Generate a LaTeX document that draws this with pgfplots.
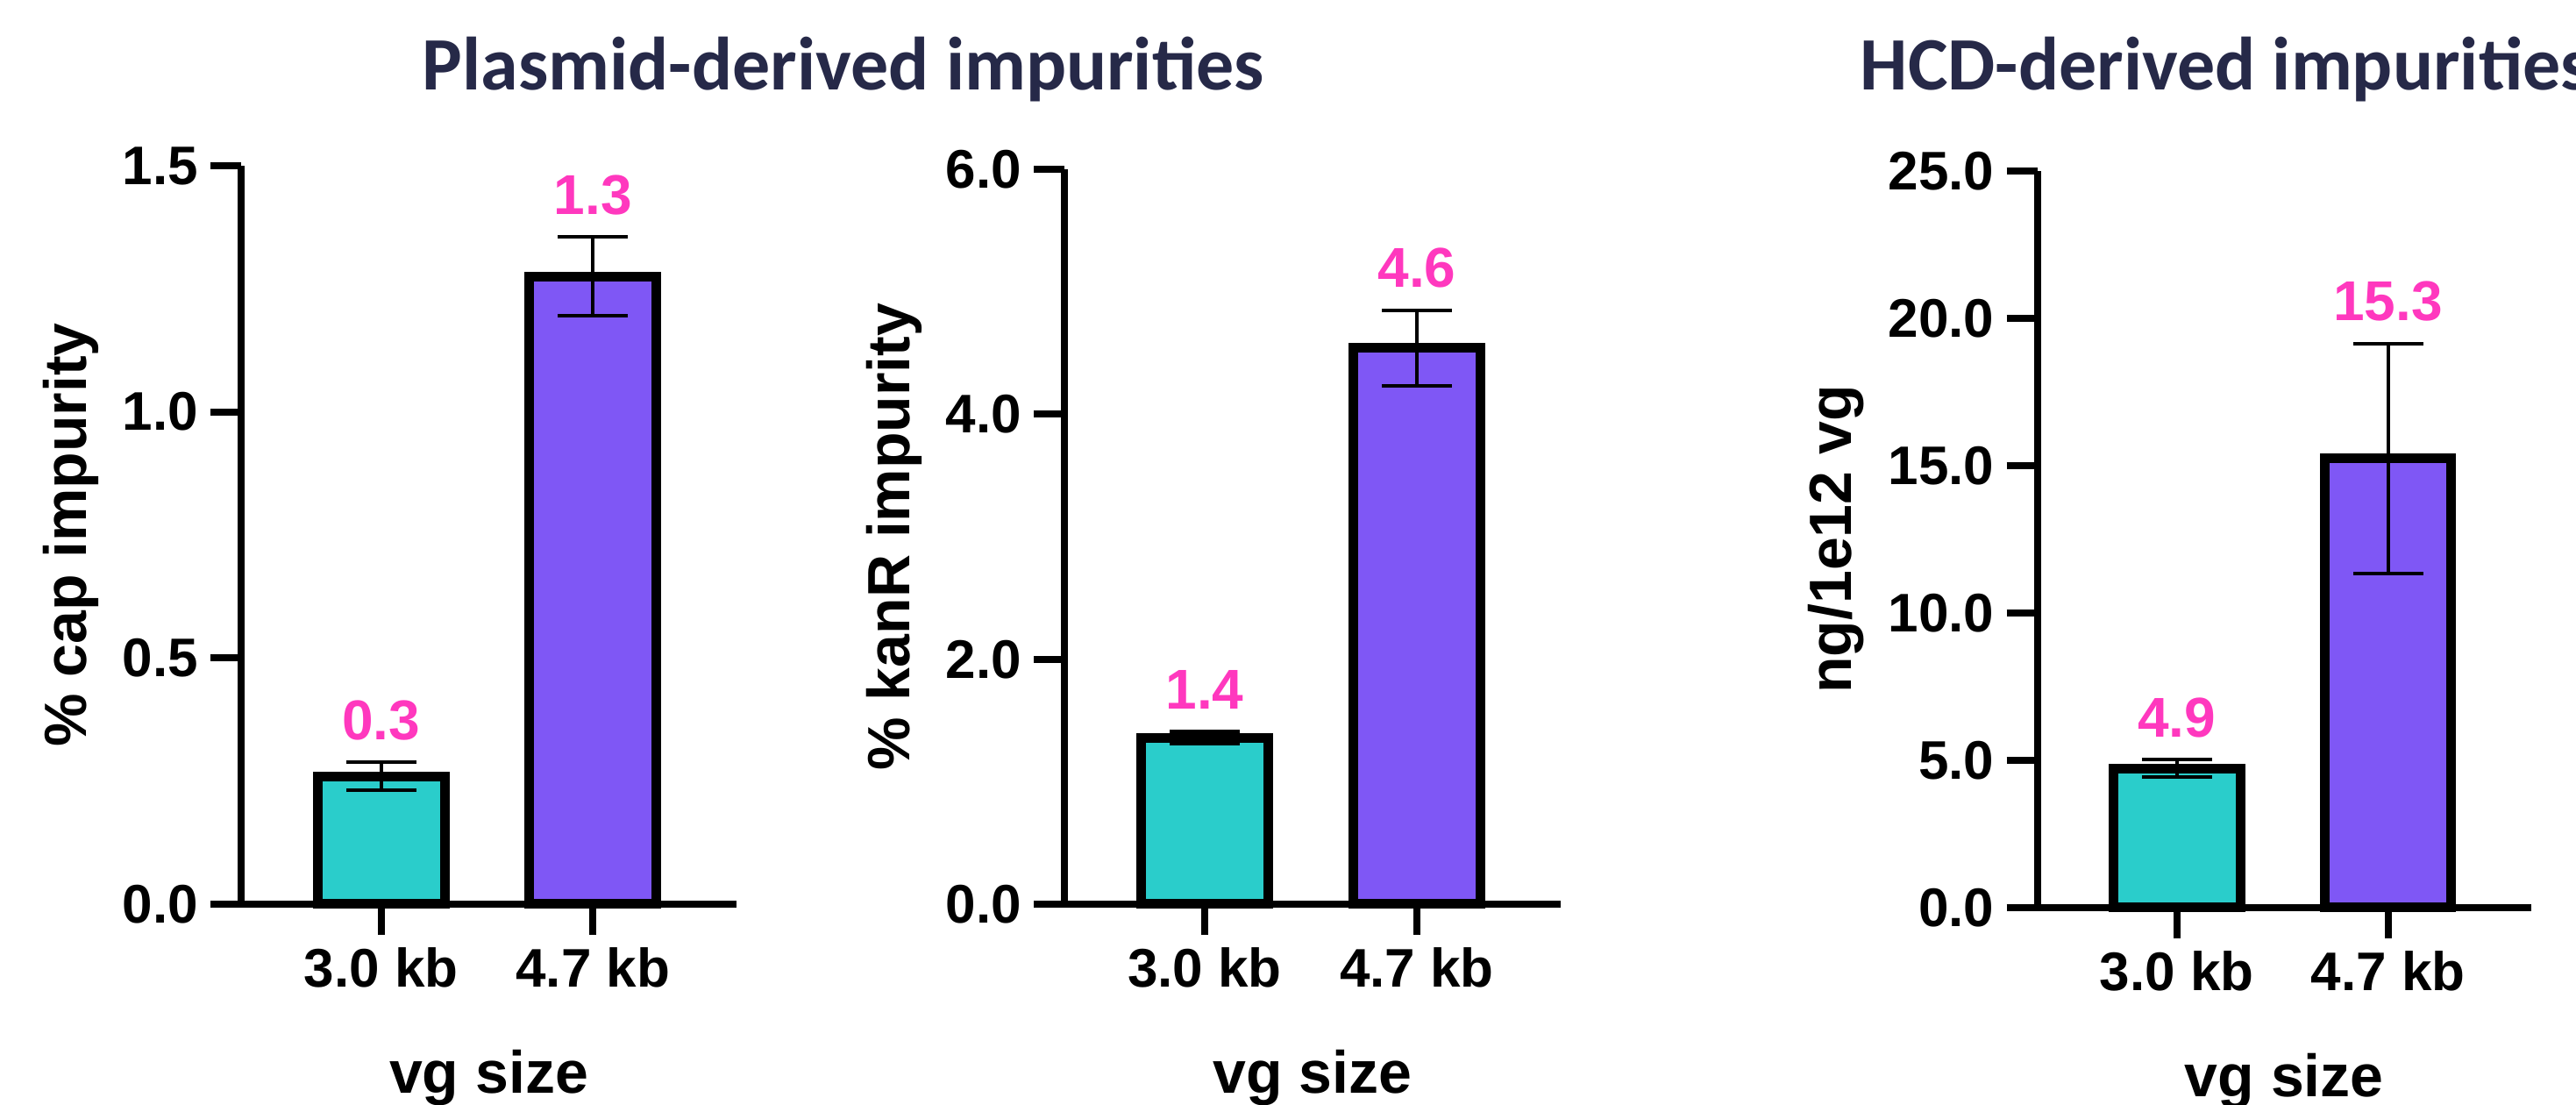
\documentclass[border=0pt]{standalone}
\usepackage{pgfplots}
\pgfplotsset{compat=1.18}
\usepackage{fontspec}
\setmainfont{Liberation Sans}
\newfontfamily\titlefont{Carlito}
\definecolor{barteal}{RGB}{42,205,203}
\definecolor{barpurple}{RGB}{127,87,245}
\definecolor{valpink}{RGB}{255,56,190}
\definecolor{titlenavy}{RGB}{38,41,72}
\pgfplotsset{
  panel/.style={
    scale only axis, clip=false,
    axis lines=left, axis line style={-, line width=2pt, black},
    xmin=-0.661, xmax=1.678, ymin=0,
    xtick={0,1}, xticklabels={3.0 kb, 4.7 kb},
    tick align=outside, major tick length=8.75pt,
    tick style={line width=2pt, black},
    ticklabel style={font=\bfseries\fontsize{15.5}{18}\selectfont},
    yticklabel style={/pgf/number format/.cd, fixed, fixed zerofill, precision=1, assume math mode=true},
    label style={font=\bfseries\fontsize{17}{20}\selectfont},
    xlabel={vg size}, xlabel style={yshift=-11pt},
  },
  barA/.style={ybar, bar shift=0pt, bar width=0.6, fill=barteal, draw=black, line width=2.75pt, mark=none,
    error bars/.cd, y dir=both, y explicit,
    error bar style={line width=1pt, black},
    error mark options={rotate=90, mark size=10pt, line width=1pt, black}},
  barB/.style={ybar, bar shift=0pt, bar width=0.6, fill=barpurple, draw=black, line width=2.75pt, mark=none,
    error bars/.cd, y dir=both, y explicit,
    error bar style={line width=1pt, black},
    error mark options={rotate=90, mark size=10pt, line width=1pt, black}},
  vals/.style={only marks, mark size=0pt, mark options={draw=none, fill=none},
    nodes near coords, point meta=explicit symbolic,
    nodes near coords style={anchor=base, yshift=6.5pt, text=valpink,
      font=\bfseries\fontsize{16}{19}\selectfont}},
}
\begin{document}
\begin{tikzpicture}
% Panel 1
\begin{axis}[panel, at={(68.75pt,57.25pt)}, anchor=south west,
  width=141.25pt, height=210.5pt, ymax=1.5, ytick={0,0.5,1.0,1.5},
  ylabel={\% cap impurity}]
\addplot[barA] coordinates {(0,0.26) +- (0,0.028)};
\addplot[barB] coordinates {(1,1.275) +- (0,0.08)};
\addplot[vals] coordinates {(0,0.288) [0.3] (1,1.355) [1.3]};
\end{axis}
% Panel 2
\begin{axis}[panel, at={(303.5pt,57.25pt)}, anchor=south west,
  width=141.5pt, height=209.5pt, ymax=6, ytick={0,2,4,6},
  ylabel={\% kanR impurity}]
\addplot[barA] coordinates {(0,1.36) +- (0,0.05)};
\addplot[barB] coordinates {(1,4.54) +- (0,0.31)};
\addplot[vals] coordinates {(0,1.41) [1.4] (1,4.85) [4.6]};
\end{axis}
% Panel 3
\begin{axis}[panel, at={(580.875pt,56.25pt)}, anchor=south west,
  width=140.875pt, height=210pt, ymax=25, ytick={0,5,10,15,20,25},
  ylabel={ng/1e12 vg}]
\addplot[barA] coordinates {(0,4.72) +- (0,0.3)};
\addplot[barB] coordinates {(1,15.25) +- (0,3.9)};
\addplot[vals] coordinates {(0,5.02) [4.9] (1,19.15) [15.3]};
\end{axis}
\node[anchor=base, text=titlenavy, font=\titlefont\bfseries\fontsize{21.5}{25}\selectfont] at (240.5pt,289.25pt) {Plasmid-derived impurities};
\node[anchor=base west, inner sep=0pt, text=titlenavy, font=\titlefont\bfseries\fontsize{21.5}{25}\selectfont] at (530.25pt,289.25pt) {HCD-derived impurities};
\pgfresetboundingbox
\path (0,0) rectangle (734.5pt,315pt);
\end{tikzpicture}
\end{document}
